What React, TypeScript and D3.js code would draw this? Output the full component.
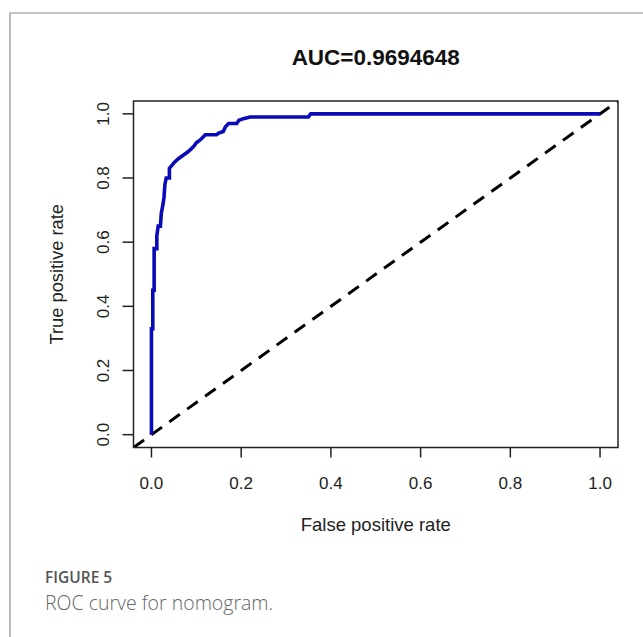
import React, { useEffect, useRef } from "react";
import * as d3 from "d3";

// ROC curve of the nomogram, R-style base plot redrawn with D3.
const fpr = [
  0, 0, 0.003, 0.003, 0.006, 0.006, 0.012, 0.012, 0.015, 0.02, 0.022, 0.026, 0.028, 0.03,
  0.033, 0.04, 0.04, 0.046, 0.052, 0.06, 0.07, 0.08, 0.088, 0.095, 0.1, 0.11, 0.12, 0.145,
  0.15, 0.16, 0.165, 0.172, 0.19, 0.195, 0.205, 0.22, 0.35, 0.355, 1,
];
const tpr = [
  0, 0.33, 0.33, 0.45, 0.45, 0.58, 0.58, 0.62, 0.65, 0.65, 0.69, 0.72, 0.74, 0.78, 0.8,
  0.8, 0.83, 0.84, 0.85, 0.86, 0.87, 0.88, 0.89, 0.9, 0.91, 0.92, 0.935, 0.935, 0.94,
  0.945, 0.96, 0.97, 0.97, 0.98, 0.985, 0.99, 0.99, 1, 1,
];
const ticks = [0, 0.2, 0.4, 0.6, 0.8, 1.0];
const auc = "0.9694648";

export default function App() {
  const ref = useRef<SVGSVGElement>(null);

  useEffect(() => {
    const svg = d3.select(ref.current);
    svg.selectAll("*").remove();

    const W = 643;
    const H = 637;
    const box = { left: 133.5, right: 618, top: 101, bottom: 447.5 };
    const font = "'Liberation Sans', Arial, sans-serif";

    // R pads the data range by 4% on each side
    const x = d3.scaleLinear().domain([-0.04, 1.04]).range([box.left, box.right]);
    const y = d3.scaleLinear().domain([-0.04, 1.04]).range([box.bottom, box.top]);

    svg.attr("width", W).attr("height", H);
    svg.append("rect").attr("width", W).attr("height", H).attr("fill", "#fff");

    // outer figure frame
    svg
      .append("path")
      .attr("d", `M10,${H} V13 H${W}`)
      .attr("fill", "none")
      .attr("stroke", "#8a8a8a")
      .attr("stroke-width", 1.2);

    svg
      .append("clipPath")
      .attr("id", "plotclip")
      .append("rect")
      .attr("x", box.left)
      .attr("y", box.top)
      .attr("width", box.right - box.left)
      .attr("height", box.bottom - box.top);

    const plot = svg.append("g").attr("clip-path", "url(#plotclip)");

    // diagonal reference (abline 0,1)
    plot
      .append("line")
      .attr("x1", x(-0.04))
      .attr("y1", y(-0.04))
      .attr("x2", x(1.04))
      .attr("y2", y(1.04))
      .attr("stroke", "#000")
      .attr("stroke-width", 3)
      .attr("stroke-dasharray", "13 9");

    const pts = fpr.map((f, i) => [f, tpr[i]] as [number, number]);
    const line = d3
      .line<[number, number]>()
      .x((d) => x(d[0]))
      .y((d) => y(d[1]));

    plot
      .append("path")
      .datum(pts)
      .attr("fill", "none")
      .attr("stroke", "#0a0ab8")
      .attr("stroke-width", 3.6)
      .attr("d", line);

    // box
    svg
      .append("rect")
      .attr("x", box.left)
      .attr("y", box.top)
      .attr("width", box.right - box.left)
      .attr("height", box.bottom - box.top)
      .attr("fill", "none")
      .attr("stroke", "#222")
      .attr("stroke-width", 1.5);

    // x axis
    const gx = svg.append("g").attr("transform", `translate(0,${box.bottom})`);
    gx.selectAll(".tk")
      .data(ticks)
      .join("line")
      .attr("x1", (d) => x(d))
      .attr("x2", (d) => x(d))
      .attr("y2", 10)
      .attr("stroke", "#222")
      .attr("stroke-width", 1.5);
    gx.selectAll(".lb")
      .data(ticks)
      .join("text")
      .attr("x", (d) => x(d))
      .attr("y", 41)
      .attr("text-anchor", "middle")
      .attr("font-family", font)
      .attr("font-size", 17)
      .attr("fill", "#222")
      .text((d) => d.toFixed(1));

    // y axis
    const gy = svg.append("g").attr("transform", `translate(${box.left},0)`);
    gy.selectAll(".tk")
      .data(ticks)
      .join("line")
      .attr("y1", (d) => y(d))
      .attr("y2", (d) => y(d))
      .attr("x2", -11)
      .attr("stroke", "#222")
      .attr("stroke-width", 1.5);
    gy.selectAll(".lb")
      .data(ticks)
      .join("text")
      .attr("transform", (d) => `translate(-25,${y(d)}) rotate(-90)`)
      .attr("text-anchor", "middle")
      .attr("font-family", font)
      .attr("font-size", 17)
      .attr("fill", "#222")
      .text((d) => d.toFixed(1));

    // titles
    svg
      .append("text")
      .attr("x", (box.left + box.right) / 2)
      .attr("y", 65)
      .attr("text-anchor", "middle")
      .attr("font-family", font)
      .attr("font-weight", "bold")
      .attr("font-size", 22.5)
      .attr("fill", "#111")
      .text(`AUC=${auc}`);

    svg
      .append("text")
      .attr("x", (box.left + box.right) / 2)
      .attr("y", 531)
      .attr("text-anchor", "middle")
      .attr("font-family", font)
      .attr("font-size", 18.5)
      .attr("fill", "#222")
      .text("False positive rate");

    svg
      .append("text")
      .attr("transform", `translate(63,${(box.top + box.bottom) / 2}) rotate(-90)`)
      .attr("text-anchor", "middle")
      .attr("font-family", font)
      .attr("font-size", 18.3)
      .attr("fill", "#222")
      .text("True positive rate");

    // caption
    svg
      .append("text")
      .attr("x", 45)
      .attr("y", 583)
      .attr("font-family", "'Open Sans', 'Noto Sans', sans-serif")
      .attr("font-weight", 600)
      .attr("font-size", 15.5)
      .attr("fill", "#555")
      .text("FIGURE 5");

    svg
      .append("text")
      .attr("x", 45)
      .attr("y", 610)
      .attr("font-family", "'Open Sans', 'Noto Sans', sans-serif")
      .attr("font-weight", 300)
      .attr("font-size", 19.5)
      .attr("fill", "#666")
      .text("ROC curve for nomogram.");
  }, []);

  return <svg ref={ref} style={{ position: "absolute", left: 0, top: 0, display: "block" }} />;
}
